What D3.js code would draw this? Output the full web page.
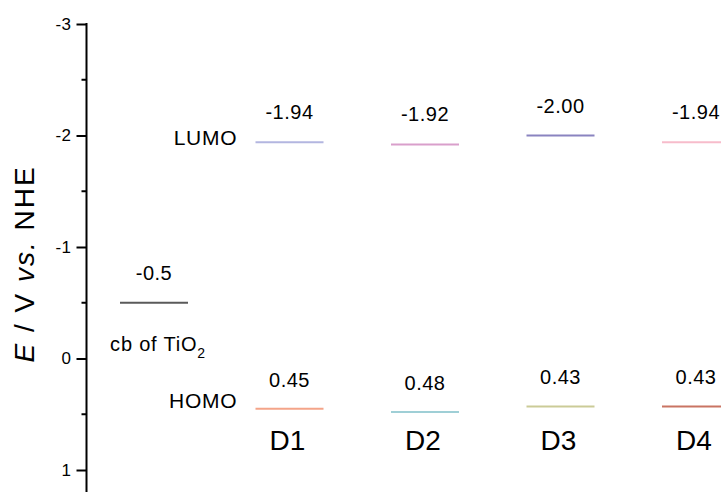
<!DOCTYPE html>
<html>
<head>
<meta charset="utf-8">
<script src="https://cdn.jsdelivr.net/npm/d3@7"></script>
<style>
  body { margin: 0; background: #fff; }
  svg { display: block; font-family: "Liberation Sans", Arial, sans-serif; }
</style>
</head>
<body>
<div id="chart"></div>
<script>
let width = 721, height = 492;

// data
let dyes = ["D1", "D2", "D3", "D4"];
let lumo = [-1.94, -1.92, -2.00, -1.94];
let homo = [0.45, 0.48, 0.43, 0.43];
let lumoColors = ["#b3b6e0", "#d99fcb", "#8a84c0", "#f7bccb"];
let homoColors = ["#f4a489", "#9fcfd6", "#cbcb97", "#c97463"];
let lumoLabels = ["-1.94", "-1.92", "-2.00", "-1.94"];
let homoLabels = ["0.45", "0.48", "0.43", "0.43"];
let tio2Cb = -0.5;
let tickValues = [-3, -2, -1, 0, 1];
let minorTicks = [-2.5, -1.5, -0.5, 0.5];

let svg = d3.select("#chart").append("svg")
  .attr("width", width)
  .attr("height", height);

let yScale = d3.scaleLinear().domain([-3, 1]).range([24, 470]);
let xScale = d3.scalePoint().domain(["TiO2"].concat(dyes)).range([154, 696]);
let halfLen = 34;
let axisX = 86.5;

// axis
let yAxis = d3.axisLeft(yScale)
  .tickValues(tickValues)
  .tickSize(10)
  .tickPadding(5)
  .tickSizeOuter(0)
  .tickFormat(d => String(d));

let gAxis = svg.append("g")
  .attr("transform", "translate(" + axisX + ",0)")
  .call(yAxis);
gAxis.select(".domain").remove();
gAxis.selectAll(".tick line").attr("stroke", "#000").attr("stroke-width", 2);
gAxis.selectAll(".tick text")
  .attr("fill", "#000")
  .style("font-size", "17px")
  .style("letter-spacing", "0.5px");

gAxis.selectAll(".minor")
  .data(minorTicks)
  .enter().append("line")
  .attr("class", "minor")
  .attr("x1", -5).attr("x2", 0)
  .attr("y1", d => yScale(d)).attr("y2", d => yScale(d))
  .attr("stroke", "#000").attr("stroke-width", 2);

gAxis.append("line")
  .attr("x1", 0).attr("x2", 0)
  .attr("y1", yScale(-3) - 1).attr("y2", height + 5)
  .attr("stroke", "#000").attr("stroke-width", 2);

// axis title
let title = svg.append("text")
  .attr("transform", "translate(34," + 264 + ") rotate(-90)")
  .attr("text-anchor", "middle")
  .style("font-size", "28px")
  .style("letter-spacing", "2px")
  .attr("fill", "#000");
title.append("tspan").style("font-style", "italic").text("E");
title.append("tspan").text(" / V ");
title.append("tspan").style("font-style", "italic").text("vs.");
title.append("tspan").text(" NHE");

// TiO2 conduction band
let tx = xScale("TiO2");
svg.append("line")
  .attr("x1", tx - halfLen).attr("x2", tx + halfLen)
  .attr("y1", yScale(tio2Cb)).attr("y2", yScale(tio2Cb))
  .attr("stroke", "#5a5a5a").attr("stroke-width", 2);
svg.append("text")
  .attr("x", tx).attr("y", yScale(tio2Cb) - 23)
  .attr("text-anchor", "middle")
  .style("font-size", "20px").style("letter-spacing", "0.5px")
  .text(tio2Cb);
let cb = svg.append("text")
  .attr("x", tx + 4).attr("y", yScale(tio2Cb) + 48)
  .attr("text-anchor", "middle")
  .style("font-size", "20px").style("letter-spacing", "0.8px");
cb.append("tspan").text("cb of TiO");
cb.append("tspan").attr("dy", 7).style("font-size", "14px").text("2");

// LUMO / HOMO levels
let lv = svg.append("g");
lv.selectAll(".lumo")
  .data(dyes)
  .enter().append("line")
  .attr("class", "lumo")
  .attr("x1", d => xScale(d) - halfLen).attr("x2", d => xScale(d) + halfLen)
  .attr("y1", (d, i) => yScale(lumo[i])).attr("y2", (d, i) => yScale(lumo[i]))
  .attr("stroke", (d, i) => lumoColors[i]).attr("stroke-width", 2);

lv.selectAll(".homo")
  .data(dyes)
  .enter().append("line")
  .attr("class", "homo")
  .attr("x1", d => xScale(d) - halfLen).attr("x2", d => xScale(d) + halfLen)
  .attr("y1", (d, i) => yScale(homo[i])).attr("y2", (d, i) => yScale(homo[i]))
  .attr("stroke", (d, i) => homoColors[i]).attr("stroke-width", 2);

lv.selectAll(".lumoText")
  .data(dyes)
  .enter().append("text")
  .attr("x", d => xScale(d))
  .attr("y", (d, i) => yScale(lumo[i]) - 23)
  .attr("text-anchor", "middle")
  .style("font-size", "20px").style("letter-spacing", "0.5px")
  .text((d, i) => lumoLabels[i]);

lv.selectAll(".homoText")
  .data(dyes)
  .enter().append("text")
  .attr("x", d => xScale(d))
  .attr("y", (d, i) => yScale(homo[i]) - 22)
  .attr("text-anchor", "middle")
  .style("font-size", "20px").style("letter-spacing", "0.5px")
  .text((d, i) => homoLabels[i]);

lv.selectAll(".dyeText")
  .data(dyes)
  .enter().append("text")
  .attr("x", d => xScale(d) - 2)
  .attr("y", 450)
  .attr("text-anchor", "middle")
  .style("font-size", "28px")
  .text(d => d);

let x0 = xScale(dyes[0]) - halfLen - 18;
svg.append("text")
  .attr("x", x0).attr("y", yScale(lumo[0]) + 3)
  .attr("text-anchor", "end")
  .style("font-size", "21px").style("letter-spacing", "0.8px")
  .text("LUMO");
svg.append("text")
  .attr("x", x0).attr("y", yScale(homo[0]) - 1)
  .attr("text-anchor", "end")
  .style("font-size", "21px").style("letter-spacing", "0.8px")
  .text("HOMO");
</script>
</body>
</html>
